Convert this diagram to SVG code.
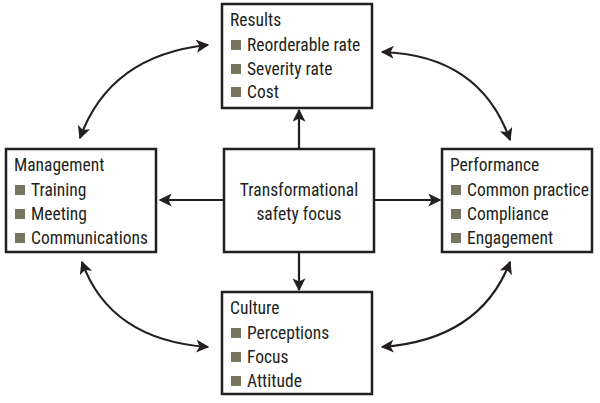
<svg xmlns="http://www.w3.org/2000/svg" width="600" height="403" viewBox="0 0 600 403">
<style>
.box{fill:#fff;stroke:#231f20;stroke-width:2.5}
text{font-family:"Liberation Sans Narrow","Roboto Condensed","Liberation Sans",sans-serif;font-size:17.5px;fill:#231f20}
.b{fill:#77745f}
.c{fill:none;stroke:#231f20;stroke-width:2.2}
</style>
<defs>
<marker id="a" viewBox="0 0 10 10" refX="9" refY="5" markerWidth="13" markerHeight="13" orient="auto-start-reverse" markerUnits="userSpaceOnUse">
<path d="M0,0L10,5L0,10L2.5,5z" fill="#231f20"/>
</marker>
</defs>
<rect width="600" height="403" fill="#fff"/>
<g id="connectors">
<path class="c" d="M299,149V110" marker-end="url(#a)"/>
<path class="c" d="M224,200H160" marker-end="url(#a)"/>
<path class="c" d="M374,200H440" marker-end="url(#a)"/>
<path class="c" d="M299,252V290" marker-end="url(#a)"/>
<path class="c" d="M208,45Q110,55 80,138" marker-start="url(#a)" marker-end="url(#a)"/>
<path class="c" d="M382,52Q480,55 510,140" marker-start="url(#a)" marker-end="url(#a)"/>
<path class="c" d="M82,262Q110,340 208,347" marker-start="url(#a)" marker-end="url(#a)"/>
<path class="c" d="M510,262Q480,340 382,347" marker-start="url(#a)" marker-end="url(#a)"/>
</g>
<g id="results">
<rect class="box" x="222" y="4" width="150" height="104"/>
<text x="230" y="26">Results</text>
<rect class="b" x="231" y="40" width="10" height="10"/><text x="247" y="51">Reorderable rate</text>
<rect class="b" x="231" y="64" width="10" height="10"/><text x="247" y="75">Severity rate</text>
<rect class="b" x="231" y="87" width="10" height="10"/><text x="247" y="98">Cost</text>
</g>
<g id="management">
<rect class="box" x="6" y="149" width="150" height="103"/>
<text x="14" y="171">Management</text>
<rect class="b" x="15" y="185" width="10" height="10"/><text x="31" y="196">Training</text>
<rect class="b" x="15" y="209" width="10" height="10"/><text x="31" y="220">Meeting</text>
<rect class="b" x="15" y="233" width="10" height="10"/><text x="31" y="244">Communications</text>
</g>
<g id="center">
<rect class="box" x="224" y="149" width="150" height="103"/>
<text x="299" y="196" text-anchor="middle">Transformational</text>
<text x="299" y="220" text-anchor="middle">safety focus</text>
</g>
<g id="performance">
<rect class="box" x="442" y="149" width="150" height="103"/>
<text x="450" y="171">Performance</text>
<rect class="b" x="451" y="185" width="10" height="10"/><text x="467" y="196">Common practice</text>
<rect class="b" x="451" y="209" width="10" height="10"/><text x="467" y="220">Compliance</text>
<rect class="b" x="451" y="233" width="10" height="10"/><text x="467" y="244">Engagement</text>
</g>
<g id="culture">
<rect class="box" x="222" y="292" width="150" height="102"/>
<text x="230" y="314">Culture</text>
<rect class="b" x="231" y="328" width="10" height="10"/><text x="247" y="339">Perceptions</text>
<rect class="b" x="231" y="352" width="10" height="10"/><text x="247" y="363">Focus</text>
<rect class="b" x="231" y="376" width="10" height="10"/><text x="247" y="387">Attitude</text>
</g>
</svg>
